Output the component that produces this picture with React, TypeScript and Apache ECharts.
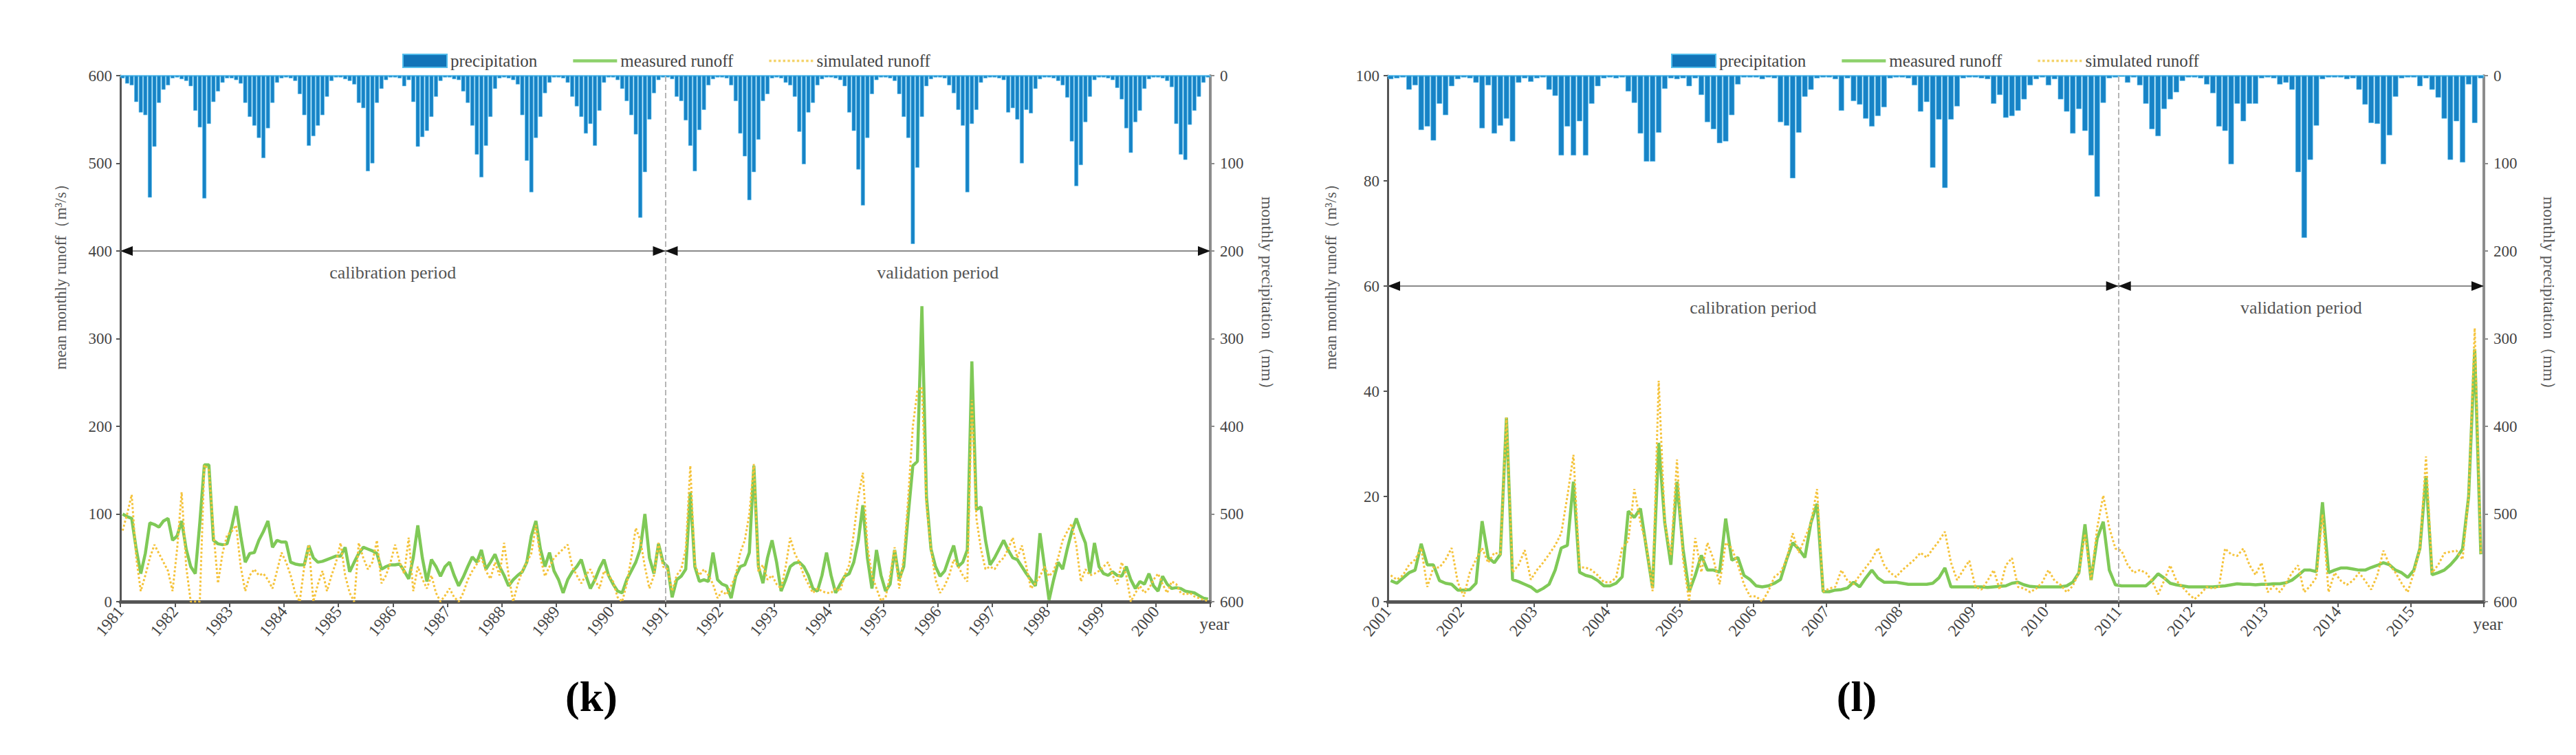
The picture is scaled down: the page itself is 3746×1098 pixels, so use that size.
import React, { useEffect, useRef } from 'react';
import * as echarts from 'echarts';

// ---------------- DATA ----------------
// Panel (k): monthly series 1981-01 .. 2000-12
const precipK = [
  3, 9, 11, 30, 42, 45, 139, 81, 31, 16, 11, 3,
  2, 4, 6, 12, 40, 59, 140, 55, 30, 18, 8, 3,
  3, 5, 9, 31, 47, 57, 71, 94, 60, 31, 8, 3,
  2, 3, 6, 21, 45, 80, 69, 57, 45, 24, 6, 2,
  2, 4, 6, 10, 31, 37, 109, 100, 31, 15, 5, 2,
  2, 3, 12, 5, 30, 81, 70, 63, 47, 24, 6, 2,
  2, 4, 5, 18, 31, 57, 90, 116, 80, 47, 15, 3,
  2, 3, 5, 10, 45, 97, 133, 71, 47, 20, 8, 2,
  2, 3, 8, 24, 35, 47, 66, 55, 80, 40, 8, 2,
  2, 5, 15, 29, 45, 67, 162, 110, 50, 20, 5, 2,
  2, 4, 24, 29, 51, 80, 109, 62, 39, 11, 4, 2,
  2, 3, 11, 29, 66, 92, 142, 110, 73, 29, 21, 3,
  2, 3, 8, 11, 24, 64, 101, 42, 31, 11, 4, 2,
  2, 3, 5, 12, 42, 63, 107, 148, 71, 21, 5, 2,
  2, 3, 6, 21, 47, 71, 192, 105, 47, 12, 4, 2,
  2, 3, 11, 20, 39, 57, 133, 55, 39, 8, 3, 2,
  2, 3, 5, 42, 37, 50, 100, 39, 43, 15, 4, 2,
  2, 3, 6, 11, 25, 75, 126, 102, 53, 24, 5, 2,
  2, 3, 5, 14, 27, 60, 88, 53, 40, 15, 4, 2,
  2, 3, 6, 13, 55, 90, 96, 56, 40, 24, 8, 2,
];
const measuredK = [
  100, 97, 95, 60, 32, 55, 90, 88, 85, 92, 95, 70,
  75, 92, 60, 40, 32, 90, 156, 156, 70, 66, 65, 66,
  85, 109, 75, 45, 55, 56, 70, 80, 92, 62, 70, 68,
  68, 45, 43, 42, 42, 64, 50, 45, 46, 48, 50, 52,
  52, 62, 34, 45, 55, 62, 60, 58, 55, 37, 40, 42,
  42, 43, 35, 26, 50, 87, 50, 23, 48, 40, 29, 40,
  45, 30, 18, 28, 40, 51, 45, 59, 37, 45, 54, 40,
  30, 18, 25, 30, 34, 45, 75, 92, 60, 40, 56, 35,
  25, 10, 25, 34, 40, 48, 30, 15, 25, 38, 48, 30,
  20, 12, 10, 25, 35, 45, 60, 100, 50, 32, 66, 45,
  40, 5, 25, 29, 37, 125, 40, 23, 25, 23, 56, 25,
  20, 18, 4, 29, 40, 42, 56, 155, 40, 21, 50, 70,
  45, 12, 25, 40, 44, 45, 40, 30, 15, 12, 30, 56,
  30, 10, 20, 29, 32, 45, 70, 110, 50, 15, 59, 30,
  12, 20, 59, 26, 40, 100, 155, 160, 337, 120, 60, 40,
  29, 35, 50, 64, 40, 45, 59, 274, 105, 108, 70, 42,
  50, 60, 70, 59, 50, 48, 40, 32, 25, 18, 78, 40,
  2, 25, 45, 37, 60, 80, 95, 80, 67, 32, 67, 40,
  32, 30, 34, 30, 29, 40, 25, 15, 23, 20, 32, 18,
  12, 29, 20, 15, 16, 15, 12, 11, 10, 7, 4, 3,
];
const simulatedK = [
  81, 100, 122, 50, 12, 30, 50, 65, 55, 45, 35, 12,
  60, 125, 40, 0, 0, 0, 156, 150, 80, 21, 55, 76,
  80, 87, 40, 12, 30, 37, 30, 32, 25, 15, 35, 56,
  45, 30, 10, 0, 40, 65, 0, 20, 35, 12, 30, 45,
  67, 30, 10, 0, 67, 50, 37, 45, 70, 21, 30, 45,
  65, 45, 32, 73, 12, 40, 26, 15, 30, 10, 0, 7,
  15, 5, 0, 10, 25, 35, 43, 50, 35, 26, 45, 30,
  67, 30, 0, 20, 35, 45, 55, 87, 50, 29, 40, 50,
  55, 60, 65, 40, 30, 21, 30, 37, 25, 15, 35, 30,
  23, 5, 0, 20, 50, 84, 70, 40, 15, 30, 67, 40,
  37, 12, 30, 37, 60, 155, 42, 30, 37, 30, 20, 4,
  12, 8, 18, 30, 56, 70, 100, 157, 34, 42, 25, 30,
  20, 15, 40, 73, 55, 45, 30, 20, 10, 15, 12, 10,
  10, 15, 12, 30, 42, 78, 120, 147, 64, 30, 15, 1,
  5, 30, 62, 15, 50, 120, 200, 240, 245, 110, 60, 25,
  10, 18, 30, 48, 40, 30, 23, 230, 95, 60, 37, 40,
  37, 45, 50, 60, 73, 50, 64, 40, 15, 21, 29, 40,
  29, 35, 50, 70, 80, 89, 64, 23, 37, 30, 32, 35,
  40, 45, 30, 20, 45, 30, 0, 10, 18, 10, 15, 25,
  32, 20, 10, 23, 20, 10, 8, 10, 6, 4, 2, 1,
];

// Panel (l): monthly series 2001-01 .. 2015-12
const precipL = [
  4, 3, 2, 16, 11, 62, 58, 74, 32, 45, 12, 4,
  2, 3, 8, 60, 11, 66, 57, 49, 75, 8, 3, 7,
  3, 2, 16, 23, 91, 58, 91, 52, 91, 32, 12, 3,
  2, 3, 2, 18, 31, 66, 98, 98, 65, 15, 3, 4,
  3, 12, 3, 22, 53, 61, 77, 75, 45, 10, 2, 2,
  2, 4, 2, 3, 53, 57, 117, 65, 24, 16, 3, 2,
  2, 4, 40, 3, 29, 33, 49, 58, 46, 36, 3, 2,
  2, 3, 11, 41, 30, 105, 50, 128, 50, 35, 3, 2,
  2, 3, 4, 32, 22, 48, 46, 40, 27, 11, 4, 2,
  11, 4, 27, 41, 66, 38, 63, 91, 138, 31, 3, 2,
  1, 8, 2, 11, 32, 61, 69, 38, 27, 19, 6, 2,
  2, 3, 10, 20, 58, 63, 101, 32, 52, 32, 32, 3,
  2, 3, 10, 8, 16, 110, 185, 96, 57, 4, 2, 2,
  2, 4, 3, 16, 33, 54, 55, 101, 68, 24, 3, 2,
  2, 12, 3, 16, 25, 49, 96, 52, 99, 10, 54, 3,
];
const measuredL = [
  4, 3.5, 4.5, 5.5, 6, 11, 7, 7, 4, 3.5, 3.3, 2.2,
  2.2, 2.3, 3.5, 15.3, 8.4, 7.4, 9, 35, 4.2, 3.8, 3.3, 2.8,
  1.9, 2.5, 3.3, 6, 10.2, 10.7, 22.8, 5.6, 5, 4.7, 4, 3,
  3, 3.5, 4.7, 17.2, 16, 17.7, 10, 2.6, 30.2, 15, 7, 22.8,
  10, 1.9, 5, 8.8, 6, 6, 5.6, 15.8, 7.9, 8.4, 5, 4.2,
  3, 2.8, 3, 3.5, 4.2, 8, 11.2, 10, 8.4, 15, 18.6, 1.9,
  1.9, 2.2, 2.3, 2.6, 3.7, 2.8, 4.5, 6, 4.5, 3.7, 3.7, 3.7,
  3.5, 3.3, 3.3, 3.3, 3.3, 3.5, 4.5, 6.4, 2.8, 2.8, 2.8, 2.8,
  2.8, 2.8, 2.7, 2.8, 2.9, 3, 3.5, 3.7, 3.2, 2.9, 2.8, 2.8,
  2.8, 2.8, 2.8, 3, 3.7, 5.5, 14.7, 4.1, 12, 15.2, 6, 3.2,
  3, 3, 3, 3, 3, 4, 5.3, 4.5, 3.5, 3.2, 3, 2.8,
  2.8, 2.8, 2.8, 2.8, 2.9, 3, 3.2, 3.4, 3.3, 3.3, 3.2, 3.3,
  3.3, 3.4, 3.4, 3.6, 4.1, 5, 6, 6, 5.7, 18.9, 5.5, 6,
  6.4, 6.4, 6.2, 6, 6, 6.5, 6.9, 7.4, 7, 6, 5.5, 4.6,
  6, 10.1, 23.9, 5.1, 5.5, 6, 7, 8.3, 10, 20, 48, 9,
];
const simulatedL = [
  5, 4.2, 5, 7, 8, 10.2, 2.8, 6.5, 6.5, 8, 10.2, 3.7,
  1, 5.6, 8, 10.2, 7.4, 9.3, 9, 35, 5.6, 7, 9.8, 4.2,
  6, 7.4, 9, 10.7, 13, 20, 27.9, 6.5, 6.5, 6, 5, 3.7,
  3.7, 4.5, 10.2, 11.6, 21.4, 15, 10.7, 2, 42, 15, 8.8, 27,
  8, 0, 12.1, 5.6, 11.2, 8, 3.3, 11.2, 10.2, 7, 3.3, 1,
  1, 0, 2, 4.7, 5.6, 8, 13, 9.3, 12, 15, 21.4, 1.9,
  2.5, 2.8, 6, 4, 3.3, 5, 6.5, 8, 10.2, 7, 5.5, 4.7,
  6, 7, 8, 9.3, 8.4, 10, 11.5, 13.3, 7.4, 4.1, 6, 7.8,
  2.8, 2.3, 4, 6, 2.3, 6.9, 8.3, 2.8, 2.5, 1.8, 2.5, 3.7,
  6, 4, 3.2, 1.8, 3, 5.5, 12.9, 4.1, 14, 20.2, 14, 10.1,
  9.7, 7, 5.5, 6, 5.5, 4, 1.4, 4, 6.9, 4, 2.8, 1.5,
  0.5, 1.5, 2.8, 2.5, 2.8, 10.1, 9, 8.7, 10.1, 7, 5.1, 7.4,
  1.8, 3, 1.8, 3.5, 5.5, 6.9, 1.8, 3, 4.6, 16.6, 1.8, 5.5,
  4, 3.2, 4, 5.5, 4, 2.3, 5, 9.7, 7, 5.5, 3.5, 1.8,
  5.5, 10, 27.6, 5.5, 7, 9.2, 9.5, 9.7, 8, 20, 52, 9,
];

const seriesNames = ['precipitation', 'measured runoff', 'simulated runoff'];
const periodNames = ['calibration period', 'validation period'];
const runoffAxisName = 'mean monthly runoff（m³/s）';
const precipAxisName = 'monthly precipitation（mm）';
const xAxisName = 'year';
const panelLabels = ['(k)', '(l)'];

// ---------------- STYLE / LAYOUT ----------------
const FONT = "'Liberation Serif', 'Times New Roman', serif";
const C_BAR = '#1783c6';
const C_MEAS = '#7fc957';
const C_SIM = '#f5c33b';
const C_AXIS = '#555555';
const C_TEXT = '#444444';

// legend icons drawn as paths (solid line and dotted line)
const ICON_SOLID = 'path://M0,0H64V4.5H0Z';
const ICON_DOTTED =
  'path://' + Array.from({ length: 10 }, (_, k) => `M${k * 6.6},0h3.4v3.4h-3.4Z`).join('');

const panels = [
  {
    left: 175, width: 1585, startYear: 1981, runoffMax: 600, runoffStep: 100, arrowAt: 400,
    splitMonth: 120, precip: precipK, measured: measuredK, simulated: simulatedK,
    barWidth: 5.8, legendLeft: 580, leftNameX: 88, rightNameX: 1843, labelX: 860,
  },
  {
    left: 2018, width: 1594, startYear: 2001, runoffMax: 100, runoffStep: 20, arrowAt: 60,
    splitMonth: 120, precip: precipL, measured: measuredL, simulated: simulatedL,
    barWidth: 7.8, legendLeft: 2425, leftNameX: 1935, rightNameX: 3707, labelX: 2700,
  },
];
const GRID_TOP = 110;
const GRID_H = 765;

const toXY = (arr: number[]) => arr.map((v, i) => [i + 0.5, v]);

function buildOption() {
  const grid: any[] = [];
  const xAxis: any[] = [];
  const yAxis: any[] = [];
  const series: any[] = [];
  const legend: any[] = [];
  const graphic: any[] = [];

  panels.forEach((p, pi) => {
    const n = p.precip.length;
    grid.push({ left: p.left, top: GRID_TOP, width: p.width, height: GRID_H, containLabel: false });

    xAxis.push({
      gridIndex: pi, type: 'value', min: 0, max: n, interval: 12, position: 'bottom',
      axisLine: { show: true, onZero: false, lineStyle: { color: C_AXIS, width: 5 } },
      axisTick: { show: true, length: 8, lineStyle: { color: C_AXIS, width: 2 } },
      axisLabel: {
        rotate: 50, fontSize: 24, color: C_TEXT, fontFamily: FONT, margin: 10,
        formatter: (v: number) => (v < n ? String(p.startYear + v / 12) : ''),
      },
      splitLine: { show: false },
      name: xAxisName, nameLocation: 'end', nameGap: 6,
      nameTextStyle: { fontSize: 25, color: C_TEXT, fontFamily: FONT, align: 'center', verticalAlign: 'top', padding: [20, 0, 0, 0] },
    });
    xAxis.push({
      gridIndex: pi, type: 'value', min: 0, max: 1, position: 'top',
      axisLine: { show: true, onZero: false, lineStyle: { color: '#74c8f0', width: 3 } },
      axisTick: { show: false }, axisLabel: { show: false }, splitLine: { show: false },
    });

    yAxis.push({
      gridIndex: pi, type: 'value', min: 0, max: p.runoffMax, interval: p.runoffStep, position: 'left',
      axisLine: { show: true, onZero: false, lineStyle: { color: C_AXIS, width: 3 } },
      axisTick: { show: true, length: 6, lineStyle: { color: C_AXIS, width: 2 } },
      axisLabel: { fontSize: 23, color: C_TEXT, fontFamily: FONT, margin: 12 },
      splitLine: { show: false },
    });
    yAxis.push({
      gridIndex: pi, type: 'value', min: 0, max: 600, interval: 100, position: 'right', inverse: true,
      axisLine: { show: true, onZero: false, lineStyle: { color: '#8c8c8c', width: 4 } },
      axisTick: { show: true, length: 6, lineStyle: { color: '#8c8c8c', width: 2 } },
      axisLabel: { fontSize: 23, color: C_TEXT, fontFamily: FONT, margin: 14 },
      splitLine: { show: false },
    });

    const xi = pi * 2;
    const yRun = pi * 2;
    const yPre = pi * 2 + 1;

    series.push({
      name: seriesNames[0], type: 'bar', xAxisIndex: xi, yAxisIndex: yPre,
      data: toXY(p.precip), barWidth: p.barWidth, z: 2,
      itemStyle: { color: C_BAR, borderColor: '#52bdec', borderWidth: 0.6 },
    });

    const lineCommon = { lineStyle: { color: '#8a8a8a', width: 2, type: 'solid' } };
    series.push({
      name: seriesNames[1], type: 'line', xAxisIndex: xi, yAxisIndex: yRun,
      data: toXY(p.measured), symbol: 'none', z: 3,
      itemStyle: { color: C_MEAS },
      lineStyle: { color: C_MEAS, width: 4.5 },
      markLine: {
        silent: true, symbol: ['none', 'none'],
        lineStyle: { color: '#8a8a8a', width: 2, type: 'solid' },
        label: {
          show: true, position: 'insideMiddleBottom', distance: 18, formatter: '{b}',
          fontSize: 26, color: '#555', fontFamily: FONT,
        },
        data: [
          { name: '', xAxis: p.splitMonth, lineStyle: { color: '#b5b5b5', width: 2, type: 'dashed' }, label: { show: false } },
          [
            { name: periodNames[0], coord: [0, p.arrowAt], ...lineCommon },
            { name: periodNames[0], coord: [p.splitMonth, p.arrowAt] },
          ],
          [
            { name: periodNames[1], coord: [p.splitMonth, p.arrowAt], ...lineCommon },
            { name: periodNames[1], coord: [n, p.arrowAt] },
          ],
        ],
      },
      markPoint: {
        silent: true, symbol: 'triangle', symbolSize: [14, 18],
        itemStyle: { color: '#111' }, label: { show: false },
        data: [
          { coord: [0, p.arrowAt], symbolRotate: 90, symbolOffset: [9, 0] },
          { coord: [p.splitMonth, p.arrowAt], symbolRotate: -90, symbolOffset: [-9, 0] },
          { coord: [p.splitMonth, p.arrowAt], symbolRotate: 90, symbolOffset: [9, 0] },
          { coord: [n, p.arrowAt], symbolRotate: -90, symbolOffset: [-9, 0] },
        ],
      },
    });
    series.push({
      name: seriesNames[2], type: 'line', xAxisIndex: xi, yAxisIndex: yRun,
      data: toXY(p.simulated), symbol: 'none', z: 4,
      itemStyle: { color: C_SIM },
      lineStyle: { color: C_SIM, width: 3, type: 'dotted' },
    });

    legend.push({
      left: p.legendLeft, top: 71, orient: 'horizontal', itemWidth: 64, itemHeight: 19, itemGap: 52,
      selectedMode: false, symbolKeepAspect: true,
      textStyle: { fontSize: 25, color: C_TEXT, fontFamily: FONT },
      data: [
        { name: seriesNames[0], icon: 'rect', itemStyle: { color: '#1274b8' } },
        { name: seriesNames[1], icon: ICON_SOLID, itemStyle: { color: '#8dd16b' } },
        { name: seriesNames[2], icon: ICON_DOTTED, itemStyle: { color: '#f4d36a' } },
      ],
    });

    graphic.push({
      type: 'text', x: p.leftNameX, y: 397, rotation: Math.PI / 2,
      style: { text: runoffAxisName, fontSize: 23, fontFamily: FONT, fill: '#555', align: 'center', verticalAlign: 'middle', textAlign: 'center', textVerticalAlign: 'middle' },
    });
    graphic.push({
      type: 'text', x: p.rightNameX, y: 432, rotation: -Math.PI / 2,
      style: { text: precipAxisName, fontSize: 24, fontFamily: FONT, fill: '#555', align: 'center', verticalAlign: 'middle', textAlign: 'center', textVerticalAlign: 'middle' },
    });
    graphic.push({
      type: 'text', x: p.labelX, y: 1013,
      style: { text: panelLabels[pi], fontSize: 62, fontWeight: 'bold', fontFamily: FONT, fill: '#000', align: 'center', verticalAlign: 'middle', textAlign: 'center', textVerticalAlign: 'middle' },
    });
  });

  return {
    animation: false,
    backgroundColor: '#ffffff',
    grid, xAxis, yAxis, series, legend, graphic,
  };
}

export default function App() {
  const ref = useRef<HTMLDivElement>(null);
  useEffect(() => {
    if (!ref.current) return;
    const chart = echarts.init(ref.current, null, { renderer: 'svg' });
    chart.setOption(buildOption() as any);
    return () => chart.dispose();
  }, []);
  return (
    <div
      ref={ref}
      style={{ position: 'fixed', left: 0, top: 0, width: 3746, height: 1098, background: '#fff' }}
    />
  );
}
